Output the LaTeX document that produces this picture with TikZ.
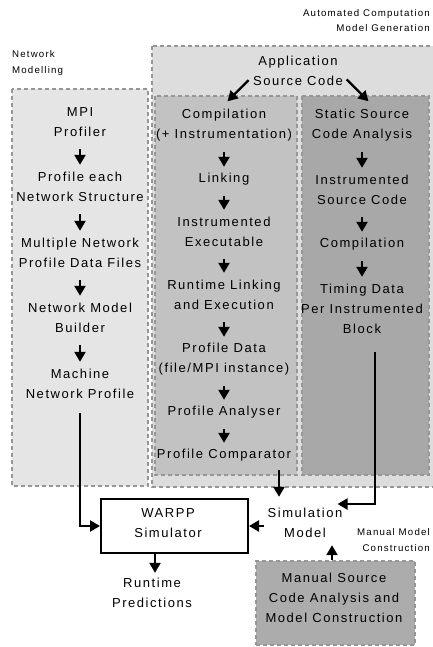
\documentclass[tikz,border=0pt]{standalone}
\usepackage{fontspec}
\setmainfont{Liberation Sans}[LetterSpace=12]
\usetikzlibrary{arrows.meta,calc}
\definecolor{dashgray}{RGB}{150,150,150}
\definecolor{netfill}{RGB}{229,229,229}
\definecolor{autofill}{RGB}{221,221,221}
\definecolor{compfill}{RGB}{194,194,194}
\definecolor{statfill}{RGB}{168,168,168}
\definecolor{manfill}{RGB}{172,172,172}
\begin{document}
\begin{tikzpicture}[x=1pt,y=-1pt,
  txt/.style={font=\fontsize{13}{20}\selectfont, align=center, inner sep=0pt, minimum height=20pt},
  two/.style={txt, minimum height=40pt},
  three/.style={txt, minimum height=60pt},
  small/.style={font=\fontsize{9.7}{15.5}\selectfont, inner sep=0pt},
  region/.style={draw=dashgray, line width=2pt, dash pattern=on 4pt off 3pt},
  arr/.style={line width=2.3pt, -{Triangle[width=11pt,length=10pt]}},
  flow/.style={arr, shorten <=7pt, shorten >=2pt}
]
\clip (0,0) rectangle (433,647);

% regions
\path[region, fill=netfill] (12,89) rectangle (148,486);
\path[region, fill=autofill] (152,46) rectangle (445,487);
\path[region, fill=compfill] (155,96) rectangle (297,475);
\path[region, fill=statfill] (302,96) rectangle (429,475);
\node[region, fill=manfill, minimum width=159pt, minimum height=84pt, inner sep=0pt] (manbox) at (335.5,603) {};
\node[draw=black, line width=2pt, fill=white, minimum width=147pt, minimum height=54pt, inner sep=0pt] (warpp) at (174.5,526) {};

% labels
\node[small, align=right, anchor=east] (acmg) at (430,20.5) {Automated Computation\\Model Generation};
\node[small, align=left, anchor=west] (netm) at (12,63) {Network\\Modelling};
\node[small, align=right, anchor=east] (mmc) at (430,540) {Manual Model\\Construction};

% application
\node[two] (app) at (298,71) {Application\\Source Code};

% network column
\node[two] (mpi) at (80,122) {MPI\\Profiler};
\node[two] (pen) at (80,187) {Profile each\\Network Structure};
\node[two] (mnp) at (80,253) {Multiple Network\\Profile Data Files};
\node[two] (nmb) at (80,318) {Network Model\\Builder};
\node[two] (mnpf) at (80,384) {Machine\\Network Profile};

% compilation column
\node[two] (comp) at (224,125) {Compilation\\(+ Instrumentation)};
\node[txt] (link) at (224,179) {Linking};
\node[two] (iexe) at (224,232) {Instrumented\\Executable};
\node[two] (rle) at (224,295) {Runtime Linking\\and Execution};
\node[two] (pdata) at (224,359) {Profile Data\\(file/MPI instance)};
\node[txt] (pana) at (224,412) {Profile Analyser};
\node[txt] (pcomp) at (224,455) {Profile Comparator};

% static column
\node[two] (ssca) at (362,125) {Static Source\\Code Analysis};
\node[two] (isc) at (362,190) {Instrumented\\Source Code};
\node[txt] (scomp) at (362,244) {Compilation};
\node[three] (tdata) at (362,309) {Timing Data\\Per Instrumented\\Block};

% bottom
\node[two] (sim) at (305,523) {Simulation\\Model};
\node[two] (wtxt) at (168,523) {WARPP\\Simulator};
\node[two] (rt) at (152,593) {Runtime\\Predictions};
\node[three] (mantxt) at (334,598) {Manual Source\\Code Analysis and\\Model Construction};

% helper coordinates
\coordinate (sbend) at (375,504);
\coordinate (cdrop) at (279,470);
\coordinate (mx) at (332,560);
\coordinate (rx) at (155,560);

% arrows
\draw[arr, shorten <=6pt, shorten >=5pt] ([yshift=-5pt]app.west) -- (comp.north);
\draw[arr, shorten <=5pt, shorten >=5pt] ([yshift=-5pt]app.east) -- ([xshift=10pt]ssca.north);

\draw[flow] (mpi) -- (pen);
\draw[flow] (pen) -- (mnp);
\draw[flow] (mnp) -- (nmb);
\draw[flow] (nmb) -- (mnpf);

\draw[flow] (comp) -- (link);
\draw[flow] (link) -- (iexe);
\draw[flow] (iexe) -- (rle);
\draw[flow] (rle) -- (pdata);
\draw[flow] (pdata) -- (pana);
\draw[flow] (pana) -- (pcomp);

\draw[flow] (ssca) -- (isc);
\draw[flow] (isc) -- (scomp);
\draw[flow] (scomp) -- (tdata);

\draw[arr, shorten <=9pt] (mnpf.south) |- (warpp.west);
\draw[arr, shorten <=5pt, shorten >=6pt] (pcomp.south -| cdrop) -- (sim.north -| cdrop);
\draw[arr, shorten <=13pt, shorten >=-5pt] (tdata.south -| sbend) -- (sbend) -- (sbend -| sim.east);
\draw[arr, shorten <=3pt] (sim.west |- warpp.east) -- (warpp.east);
\draw[arr, shorten >=2pt] (manbox.north -| mx) -- (sim.south -| mx);
\draw[arr] (warpp.south -| rx) -- (rt.north -| rx);
\end{tikzpicture}
\end{document}
